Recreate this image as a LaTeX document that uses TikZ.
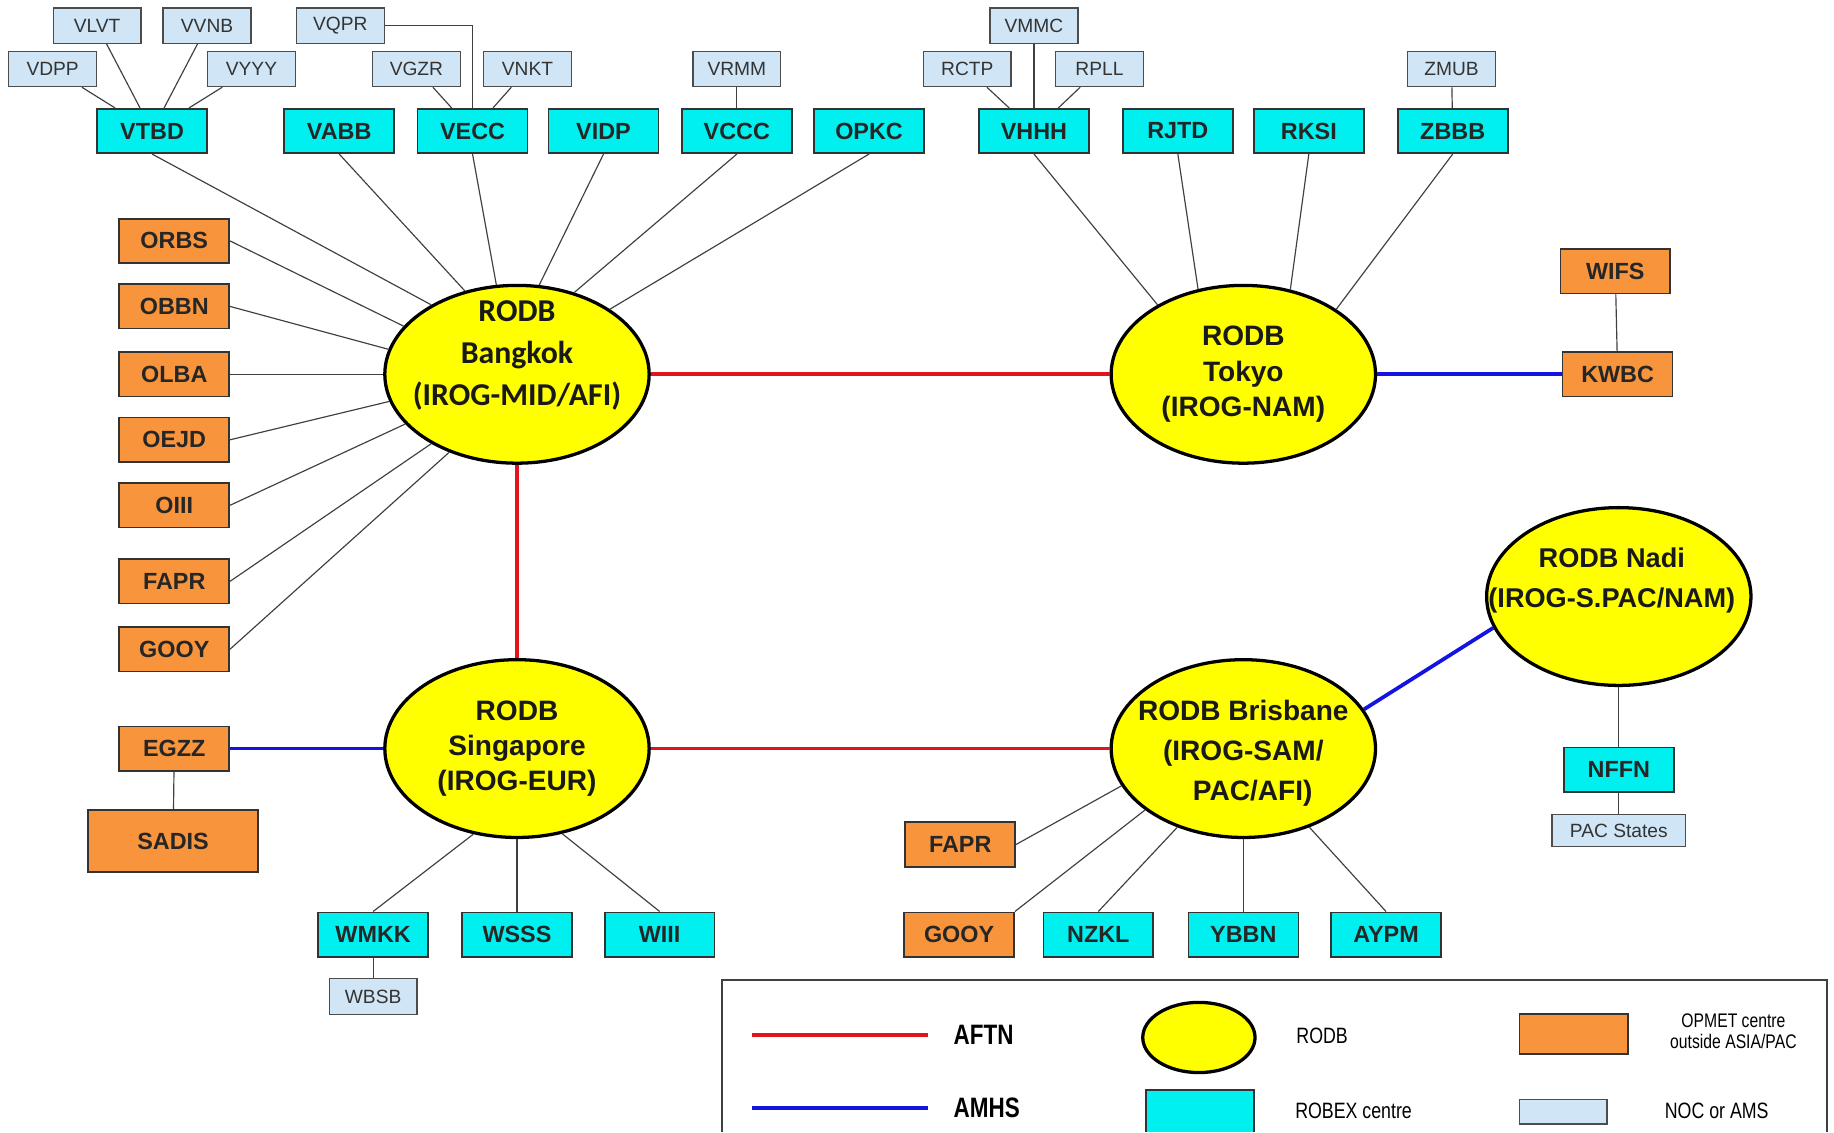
\documentclass[tikz,border=0pt]{standalone}
\usepackage{fontspec}
\setmainfont{Liberation Sans}
\newfontfamily\calfont{Carlito}
\newfontfamily\narrowfont[FakeStretch=0.8]{Liberation Sans}
\usetikzlibrary{shapes.geometric}
\definecolor{robexcyan}{RGB}{0,240,240}
\definecolor{opmetorange}{RGB}{247,148,60}
\definecolor{nocblue}{RGB}{208,230,246}
\definecolor{rodbyellow}{RGB}{255,255,0}
\definecolor{aftnred}{RGB}{225,20,30}
\definecolor{amhsblue}{RGB}{20,20,225}
\tikzset{
  box/.style={draw=black!80, line width=0.7pt, inner sep=0pt, minimum width=47pt,
    minimum height=19pt, font=\fontsize{10}{12}\selectfont\bfseries, text=black!85},
  robex/.style={box, fill=robexcyan},
  opmet/.style={box, fill=opmetorange},
  noc/.style={draw=black!70, line width=0.6pt, fill=nocblue, inner sep=0pt,
    minimum width=37.5pt, minimum height=15pt, font=\fontsize{8.2}{9}\selectfont, text=black!80},
  rodb/.style={ellipse, draw, line width=1.4pt, fill=rodbyellow, inner sep=0pt,
    minimum width=113pt, minimum height=76pt},
  rodbtext/.style={align=center, font=\fontsize{12}{15}\selectfont\bfseries, text=black!90},
  link/.style={line width=0.5pt, black!75},
  aftn/.style={line width=1.6pt, aftnred},
  amhs/.style={line width=1.6pt, amhsblue},
  legtext/.style={anchor=west, inner sep=0pt, font=\narrowfont\fontsize{9.5}{10}\selectfont}
}
\begin{document}
\begin{tikzpicture}[x=0.5pt,y=-0.5pt]
      \useasboundingbox (0,0) rectangle (1568,968);
      % RODB centres
      \node[rodb, label={[rodbtext, font=\calfont\fontsize{13.6}{18}\selectfont\bfseries, yshift=8pt]center:{RODB\\Bangkok\\(IROG-MID/AFI)}}] (bkk) at (442,320) {};
      \node[rodb, label={[rodbtext, font=\fontsize{12}{15.25}\selectfont\bfseries]center:{RODB\\Tokyo\\(IROG-NAM)}}] (tyo) at (1063,320) {};
      \node[rodb, label={[rodbtext]center:{RODB\\Singapore\\(IROG-EUR)}}] (sin) at (442,640) {};
      \node[rodb, label={[rodbtext, font=\fontsize{12}{17}\selectfont\bfseries, yshift=-2pt]center:{RODB Brisbane\\(IROG-SAM/\\\hspace*{8pt}PAC/AFI)}}] (bne) at (1063,640) {};
      \node[rodb, label={[rodbtext, font=\fontsize{11.6}{17}\selectfont\bfseries, yshift=7pt, xshift=-3pt]center:{RODB Nadi\\(IROG-S.PAC/NAM)}}] (nadi) at (1384,510) {};
      % ROBEX centres, top row
      \node[robex] (vtbd) at (130,112) {VTBD};
      \node[robex] (vabb) at (290,112) {VABB};
      \node[robex] (vecc) at (404,112) {VECC};
      \node[robex] (vidp) at (516,112) {VIDP};
      \node[robex] (vccc) at (630,112) {VCCC};
      \node[robex] (opkc) at (743,112) {OPKC};
      \node[robex] (vhhh) at (884,112) {VHHH};
      \node[robex] (rjtd) at (1007,112) {RJTD};
      \node[robex] (rksi) at (1119,112) {RKSI};
      \node[robex] (zbbb) at (1242,112) {ZBBB};
      % NOC / AMS
      \node[noc] (vlvt) at (83,22) {VLVT};
      \node[noc] (vvnb) at (177,22) {VVNB};
      \node[noc] (vqpr) at (291,22) {VQPR};
      \node[noc] (vdpp) at (45,59) {VDPP};
      \node[noc] (vyyy) at (215,59) {VYYY};
      \node[noc] (vgzr) at (356,59) {VGZR};
      \node[noc] (vnkt) at (451,59) {VNKT};
      \node[noc] (vrmm) at (630,59) {VRMM};
      \node[noc] (vmmc) at (884,22) {VMMC};
      \node[noc] (rctp) at (827,59) {RCTP};
      \node[noc] (rpll) at (940,59) {RPLL};
      \node[noc] (zmub) at (1241,59) {ZMUB};
      % OPMET outside ASIA/PAC, left
      \node[opmet] (orbs) at (149,206) {ORBS};
      \node[opmet] (obbn) at (149,262) {OBBN};
      \node[opmet] (olba) at (149,320) {OLBA};
      \node[opmet] (oejd) at (149,376) {OEJD};
      \node[opmet] (oiii) at (149,432) {OIII};
      \node[opmet] (fapra) at (149,497) {FAPR};
      \node[opmet] (gooya) at (149,555) {GOOY};
      \node[opmet] (egzz) at (149,640) {EGZZ};
      \node[opmet, minimum width=72.5pt, minimum height=26.5pt] (sadis) at (148,719) {SADIS};
      % Singapore area
      \node[robex] (wmkk) at (319,799) {WMKK};
      \node[robex] (wsss) at (442,799) {WSSS};
      \node[robex] (wiii) at (564,799) {WIII};
      \node[noc, minimum height=15.5pt] (wbsb) at (319,852) {WBSB};
      % Brisbane area
      \node[opmet] (faprb) at (821,722) {FAPR};
      \node[opmet] (gooyb) at (820,799) {GOOY};
      \node[robex] (nzkl) at (939,799) {NZKL};
      \node[robex] (ybbn) at (1063,799) {YBBN};
      \node[robex] (aypm) at (1185,799) {AYPM};
      % right side
      \node[opmet] (wifs) at (1381,232) {WIFS};
      \node[opmet] (kwbc) at (1383,320) {KWBC};
      \node[robex] (nffn) at (1384,658) {NFFN};
      \node[noc, minimum width=57pt, minimum height=13.5pt] (pacst) at (1384,710) {PAC States};

      % NOC -- ROBEX
      \draw[link] (vdpp) -- (vtbd);
      \draw[link] (vlvt) -- (vtbd);
      \draw[link] (vvnb) -- (vtbd);
      \draw[link] (vyyy) -- (vtbd);
      \draw[link] (vqpr.east) -| (vecc.north);
      \draw[link] (vgzr) -- (vecc);
      \draw[link] (vnkt) -- (vecc);
      \draw[link] (vrmm) -- (vccc);
      \draw[link] (vmmc) -- (vhhh);
      \draw[link] (rctp) -- (vhhh);
      \draw[link] (rpll) -- (vhhh);
      \draw[link] (zmub) -- (zbbb);
      % to Bangkok
      \draw[link] (vtbd.south) -- (bkk.141);
      \draw[link] (vabb.south) -- (bkk.122);
      \draw[link] (vecc.south) -- (bkk.103);
      \draw[link] (vidp.south) -- (bkk.76);
      \draw[link] (vccc.south) -- (bkk.55);
      \draw[link] (opkc.south) -- (bkk.35);
      \draw[link] (orbs.east) -- (bkk.157);
      \draw[link] (obbn.east) -- (bkk.169);
      \draw[link] (olba.east) -- (bkk.180);
      \draw[link] (oejd.east) -- (bkk.192);
      \draw[link] (oiii.east) -- (bkk.204);
      \draw[link] (fapra.east) -- (bkk.219);
      \draw[link] (gooya.east) -- (bkk.229);
      % to Tokyo
      \draw[link] (vhhh.south) -- (tyo.141);
      \draw[link] (rjtd.south) -- (tyo.118);
      \draw[link] (rksi.south) -- (tyo.61);
      \draw[link] (zbbb.south) -- (tyo.35);
      \draw[link] (wifs) -- (kwbc);
      % to Singapore
      \draw[link] (wmkk.north) -- (sin.243);
      \draw[link] (wsss) -- (sin);
      \draw[link] (wiii.north) -- (sin.298);
      \draw[link] (wmkk) -- (wbsb);
      \draw[link] (egzz) -- (sadis);
      % to Brisbane
      \draw[link] (faprb.east) -- (bne.197);
      \draw[link] (gooyb.north east) -- (bne.212);
      \draw[link] (nzkl.north) -- (bne.230);
      \draw[link] (ybbn) -- (bne);
      \draw[link] (aypm.north) -- (bne.310);
      % Nadi
      \draw[link] (nadi) -- (nffn);
      \draw[link] (nffn) -- (pacst);

      % AFTN and AMHS
      \draw[aftn] (bkk) -- (tyo);
      \draw[aftn] (bkk) -- (sin);
      \draw[aftn] (sin) -- (bne);
      \draw[amhs] (tyo) -- (kwbc);
      \draw[amhs] (egzz) -- (sin);
      \draw[amhs] (bne.18) -- (nadi.194);

      % legend
      \draw[black!75, line width=0.8pt] (617,968) |- (1562,838) -- (1562,968);
      \draw[aftn] (643,885) -- (793,885);
      \draw[amhs] (643,947) -- (793,947);
      \node[legtext, font=\narrowfont\fontsize{12}{14}\selectfont\bfseries] (lgaftn) at (815,885) {AFTN};
      \node[legtext, font=\narrowfont\fontsize{12}{14}\selectfont\bfseries] (lgamhs) at (815,947) {AMHS};
      \node[rodb, minimum width=48pt, minimum height=30pt] (lgrodb) at (1025,887) {};
      \fill[robexcyan] (980,932) rectangle (1072,968);
      \draw[black!80, line width=0.7pt] (980,968) |- (1072,932) -- (1072,968);
      \node[legtext] (lgrodbt) at (1108,886) {RODB};
      \node[legtext] (lgrobex) at (1107,950) {ROBEX centre};
      \node[opmet, minimum width=46.5pt, minimum height=17pt] (lgopmet) at (1345.5,884) {};
      \node[noc, minimum width=37.5pt, minimum height=10.5pt] (lgnoc) at (1336.5,950.5) {};
      \node[align=center, font=\narrowfont\fontsize{8.4}{9}\selectfont] (lgopmett) at (1482,882) {OPMET centre\\outside ASIA/PAC};
      \node[legtext] (lgnoct) at (1423,950) {NOC or AMS};
\end{tikzpicture}
\end{document}
